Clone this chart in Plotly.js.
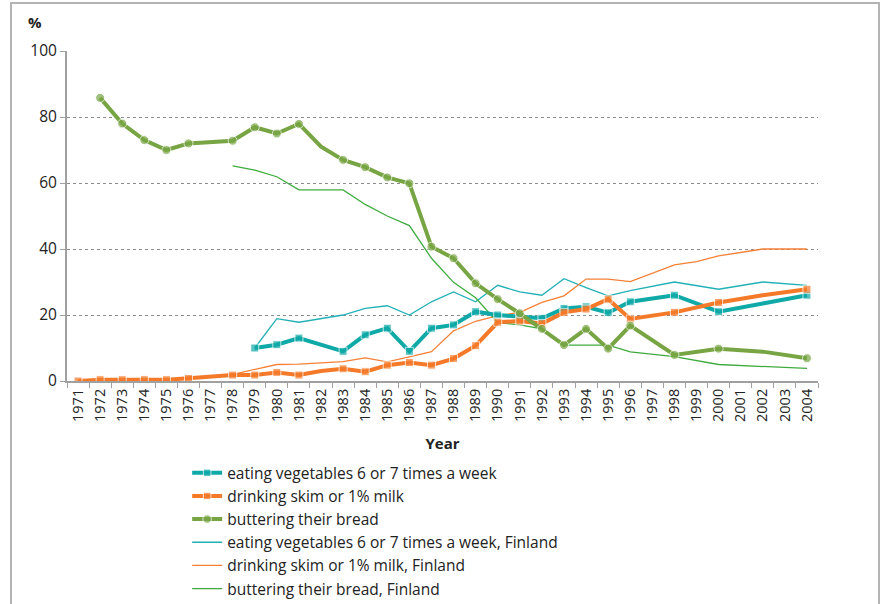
<!DOCTYPE html>
<html>
<head>
<meta charset="utf-8">
<script src="https://cdn.plot.ly/plotly-3.0.1.min.js"></script>
<style>
  html, body { margin: 0; padding: 0; background: #fff; }
  #wrap { position: relative; width: 882px; height: 604px; overflow: hidden; }
  #chart { position: absolute; left: 0; top: 0; width: 882px; height: 604px; }
  #frame { position: absolute; left: 10px; top: 2px; width: 866px; height: 640px; border: 2px solid #b4b4b4; pointer-events: none; }
</style>
</head>
<body>
<div id="wrap">
  <div id="chart"></div>
  <div id="frame"></div>
</div>
<script>
const years = ['1971','1972','1973','1974','1975','1976','1977','1978','1979','1980',
  '1981','1982','1983','1984','1985','1986','1987','1988','1989','1990',
  '1991','1992','1993','1994','1995','1996','1997','1998','1999','2000',
  '2001','2002','2003','2004'];

const vegetables = [null,null,null,null,null,null,null,null,10,11,
  13,null,9,14,16,9,16,17,21,20,
  19.5,19,22,22.5,20.7,24,null,26,null,21,
  null,23.5,null,26];

const skimMilk = [0,0.4,0.4,0.4,0.4,0.8,null,1.8,1.8,2.6,
  1.8,3,3.7,2.8,4.8,5.6,4.8,6.8,10.7,17.8,
  18.2,17.4,20.8,21.8,24.8,18.8,null,20.8,null,23.8,
  null,26,null,27.8];

const butter = [null,85.8,78,73,70,72,null,72.8,76.9,75,
  77.9,71,67,64.8,61.7,59.9,40.7,37.2,29.6,24.8,
  20.5,15.8,10.9,15.8,9.8,16.8,null,7.9,null,9.8,
  null,8.9,null,6.9];

const vegetablesFinland = [null,null,null,null,null,null,null,null,10,18.9,
  17.8,null,20,22,22.8,20,24,27,24,29,
  27,26,31,28.3,25.8,27.4,null,30,null,27.8,
  null,30,null,29];

const skimMilkFinland = [null,null,null,null,null,null,null,2,null,5,
  5.1,null,5.9,7,5.8,7.3,8.9,15.2,18.1,19.8,
  20.8,23.8,25.8,30.9,30.9,30.1,null,35.2,36.2,37.9,
  null,40,40,40];

const butterFinland = [null,null,null,null,null,null,null,65.2,63.9,61.9,
  57.9,57.9,57.9,53.5,50,47.1,37.2,29.9,25.2,17.7,
  17,15.8,10.9,10.9,10.9,8.8,null,7.4,null,5,
  null,4.3,null,3.8];

const unmarkedYears = ['1982','2002'];

const seriesNames = [
  'eating vegetables 6 or 7 times a week',
  'drinking skim or 1% milk',
  'buttering their bread',
  'eating vegetables 6 or 7 times a week, Finland',
  'drinking skim or 1% milk, Finland',
  'buttering their bread, Finland'
];

const markerSizes = (sz) => years.map(y => unmarkedYears.includes(y) ? 0 : sz);

const C_TEAL = '#0fa9a7', C_ORANGE = '#f47a2a', C_GREEN = '#78a544';
const C_TEAL_T = '#22b0b6', C_ORANGE_T = '#f58036', C_GREEN_T = '#3fab3f';

function thin(name, y, color, rank) {
  return { x: years, y: y, name: name, type: 'scatter', mode: 'lines', connectgaps: true,
    line: { color: color, width: 1.3 }, legendrank: rank, hoverinfo: 'skip' };
}
function thick(name, y, color, symbol, rank) {
  return { x: years, y: y, name: name, type: 'scatter', mode: 'lines+markers', connectgaps: true,
    line: { color: color, width: 4 },
    marker: { color: color, symbol: symbol, size: markerSizes(symbol === 'square' ? 8 : 9) },
    legendrank: rank };
}

const traces = [
  thin(seriesNames[3], vegetablesFinland, C_TEAL_T, 4),
  thin(seriesNames[4], skimMilkFinland, C_ORANGE_T, 5),
  thin(seriesNames[5], butterFinland, C_GREEN_T, 6),
  thick(seriesNames[0], vegetables, C_TEAL, 'square', 1),
  thick(seriesNames[1], skimMilk, C_ORANGE, 'square', 2),
  thick(seriesNames[2], butter, C_GREEN, 'circle', 3)
];

const layout = {
  width: 882, height: 604,
  margin: { l: 67, r: 64, t: 51, b: 223, autoexpand: false },
  paper_bgcolor: 'rgba(0,0,0,0)', plot_bgcolor: '#fff',
  font: { family: 'Open Sans, Noto Sans, sans-serif', size: 14, color: '#222' },
  showlegend: true,
  legend: {
    x: 0.16, y: -0.228, xanchor: 'left', yanchor: 'top',
    font: { size: 15.5, color: '#222' }, tracegroupgap: 0,
    itemwidth: 30, bgcolor: 'rgba(0,0,0,0)'
  },
  xaxis: {
    type: 'category', tickangle: -90, tickson: 'boundaries',
    ticks: 'outside', ticklen: 5, tickcolor: '#a0a0a0',
    showline: true, linecolor: '#a0a0a0', linewidth: 2,
    showgrid: false, tickfont: { size: 14.5, color: '#222' },
    automargin: false,
    title: { text: '<b>Year</b>', font: { size: 15, color: '#222' }, standoff: 18 },
    range: [-0.5, 33.5]
  },
  yaxis: {
    range: [0, 100], tickvals: [0, 20, 40, 60, 80, 100],
    ticks: 'outside', ticklen: 5, tickcolor: '#a0a0a0',
    showline: true, linecolor: '#a0a0a0', linewidth: 2,
    showgrid: true, gridcolor: '#8c8c8c', griddash: 'dot', gridwidth: 1,
    zeroline: false, tickfont: { size: 15.5, color: '#222' },
    automargin: false
  },
  annotations: [{
    text: '<b>%</b>', xref: 'paper', yref: 'paper', x: -0.043, y: 1.088,
    xanchor: 'center', yanchor: 'middle', showarrow: false,
    font: { size: 15, color: '#222' }
  }]
};

Plotly.newPlot('chart', traces, layout, { displayModeBar: false, staticPlot: true });
</script>
</body>
</html>
